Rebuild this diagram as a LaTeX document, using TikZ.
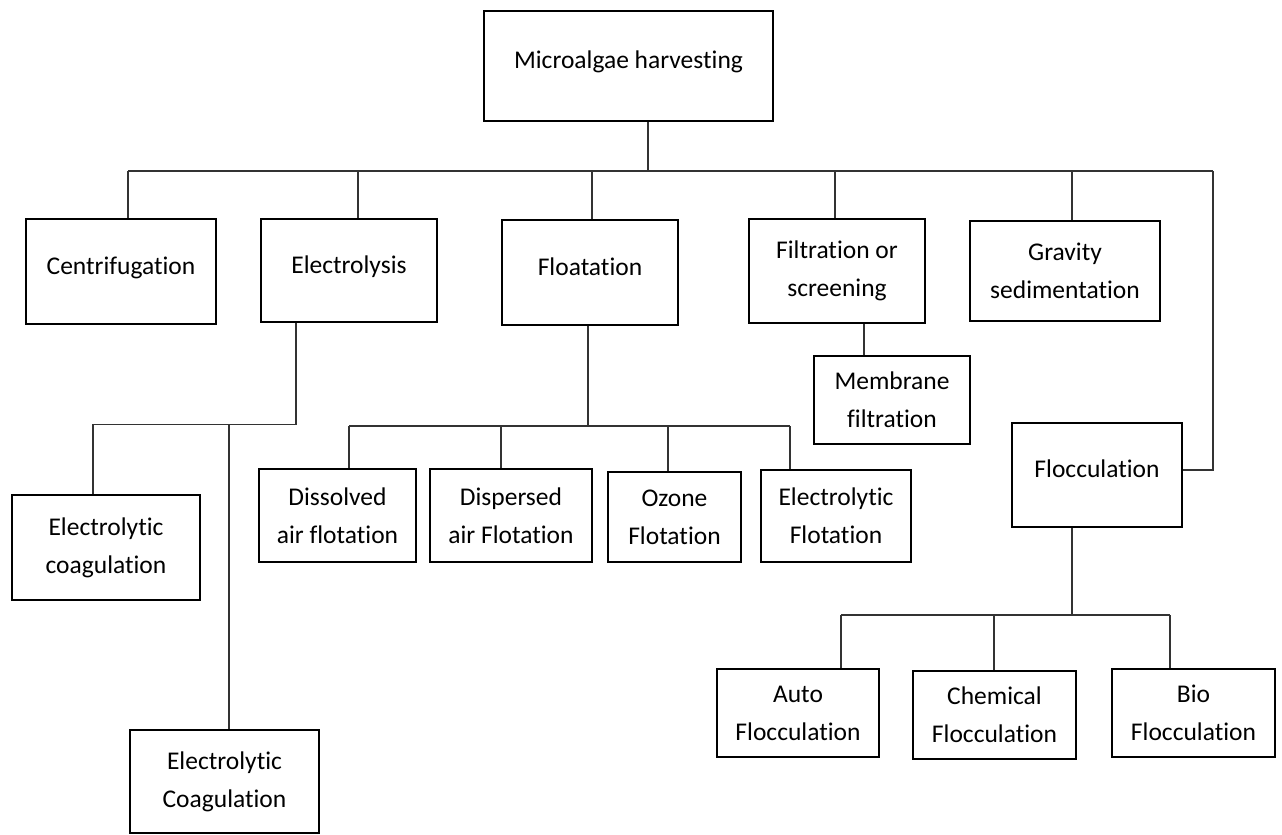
\documentclass[tikz,border=0pt]{standalone}
\usepackage{fontspec}
\setmainfont{Carlito}[Ligatures=NoCommon]
\begin{document}
\begin{tikzpicture}[x=1pt,y=-1pt,
  box/.style={draw=black, line width=2.2pt, inner sep=0pt, align=center, font=\fontsize{25.5pt}{38pt}\selectfont},
  single/.style={text height=18pt, text depth=13pt},
  link/.style={draw=black!80, line width=1.1pt}]
\useasboundingbox (0,0) rectangle (1282,835);
% boxes
\node[box,single,minimum width=289pt,minimum height=110pt] (top) at (628.5,66) {Microalgae harvesting};
\node[box,single,minimum width=190pt,minimum height=105pt] (cen) at (121,271.5) {Centrifugation};
\node[box,single,minimum width=176pt,minimum height=103pt] (ely) at (349,270.5) {Electrolysis};
\node[box,single,minimum width=176pt,minimum height=105pt] (flo) at (590,272.5) {Floatation};
\node[box,minimum width=176pt,minimum height=104pt] (fil) at (837,271) {Filtration or\\screening};
\node[box,minimum width=190pt,minimum height=100pt] (gra) at (1065,271) {Gravity\\sedimentation};
\node[box,minimum width=156pt,minimum height=88pt] (mem) at (892,400) {Membrane\\filtration};
\node[box,single,minimum width=170pt,minimum height=104pt] (floc) at (1097,475) {Flocculation};
\node[box,minimum width=188pt,minimum height=105pt] (ec1) at (106,547.5) {Electrolytic\\coagulation};
\node[box,minimum width=189pt,minimum height=103pt] (ec2) at (224.5,781.5) {Electrolytic\\Coagulation};
\node[box,minimum width=157pt,minimum height=93pt] (dis) at (337.5,515.5) {Dissolved\\air flotation};
\node[box,minimum width=162pt,minimum height=93pt] (dsp) at (511,515.5) {Dispersed\\air Flotation};
\node[box,minimum width=133pt,minimum height=90pt] (ozo) at (674.5,517) {Ozone\\Flotation};
\node[box,minimum width=150pt,minimum height=92pt] (elf) at (836,516) {Electrolytic\\Flotation};
\node[box,minimum width=162pt,minimum height=88pt] (aut) at (798,713) {Auto\\Flocculation};
\node[box,minimum width=163pt,minimum height=88pt] (che) at (994.5,715) {Chemical\\Flocculation};
\node[box,minimum width=163pt,minimum height=88pt] (bio) at (1193.5,713) {Bio\\Flocculation};
% main bus
\coordinate (h0) at (648,171);
\coordinate (hl) at (128,171);
\coordinate (hr) at (1213,171);
\coordinate (d2) at (358,171);
\coordinate (d3) at (592,171);
\coordinate (d4) at (835,171);
\coordinate (d5) at (1072,171);
\coordinate (fr) at (1213,470);
\draw[link] (top.south -| h0) -- (h0);
\draw[link] (hl) -- (hr);
\draw[link] (hl) -- (hl |- cen.north);
\draw[link] (d2) -- (d2 |- ely.north);
\draw[link] (d3) -- (d3 |- flo.north);
\draw[link] (d4) -- (d4 |- fil.north);
\draw[link] (d5) -- (d5 |- gra.north);
\draw[link] (hr) -- (fr) -- (fr -| floc.east);
% electrolysis branch
\coordinate (e0) at (296,424.5);
\coordinate (e1) at (93,424.5);
\coordinate (e2) at (229,424.5);
\draw[link] (ely.south -| e0) -- (e0) -- (e1) -- (e1 |- ec1.north);
\draw[link] (e2) -- (e2 |- ec2.north);
% floatation branch
\coordinate (f0) at (588,426);
\coordinate (fl) at (349,426);
\coordinate (f2) at (501,426);
\coordinate (f3) at (668,426);
\coordinate (f4) at (790,426);
\draw[link] (flo.south -| f0) -- (f0);
\draw[link] (fl) -- (f4);
\draw[link] (fl) -- (fl |- dis.north);
\draw[link] (f2) -- (f2 |- dsp.north);
\draw[link] (f3) -- (f3 |- ozo.north);
\draw[link] (f4) -- (f4 |- elf.north);
% filtration branch
\coordinate (m0) at (864,340);
\draw[link] (fil.south -| m0) -- (mem.north -| m0);
% flocculation branch
\coordinate (c0) at (1072,615);
\coordinate (cl) at (841,615);
\coordinate (c2) at (994,615);
\coordinate (cr) at (1170,615);
\draw[link] (floc.south -| c0) -- (c0);
\draw[link] (cl) -- (cr);
\draw[link] (cl) -- (cl |- aut.north);
\draw[link] (c2) -- (c2 |- che.north);
\draw[link] (cr) -- (cr |- bio.north);
\end{tikzpicture}
\end{document}
